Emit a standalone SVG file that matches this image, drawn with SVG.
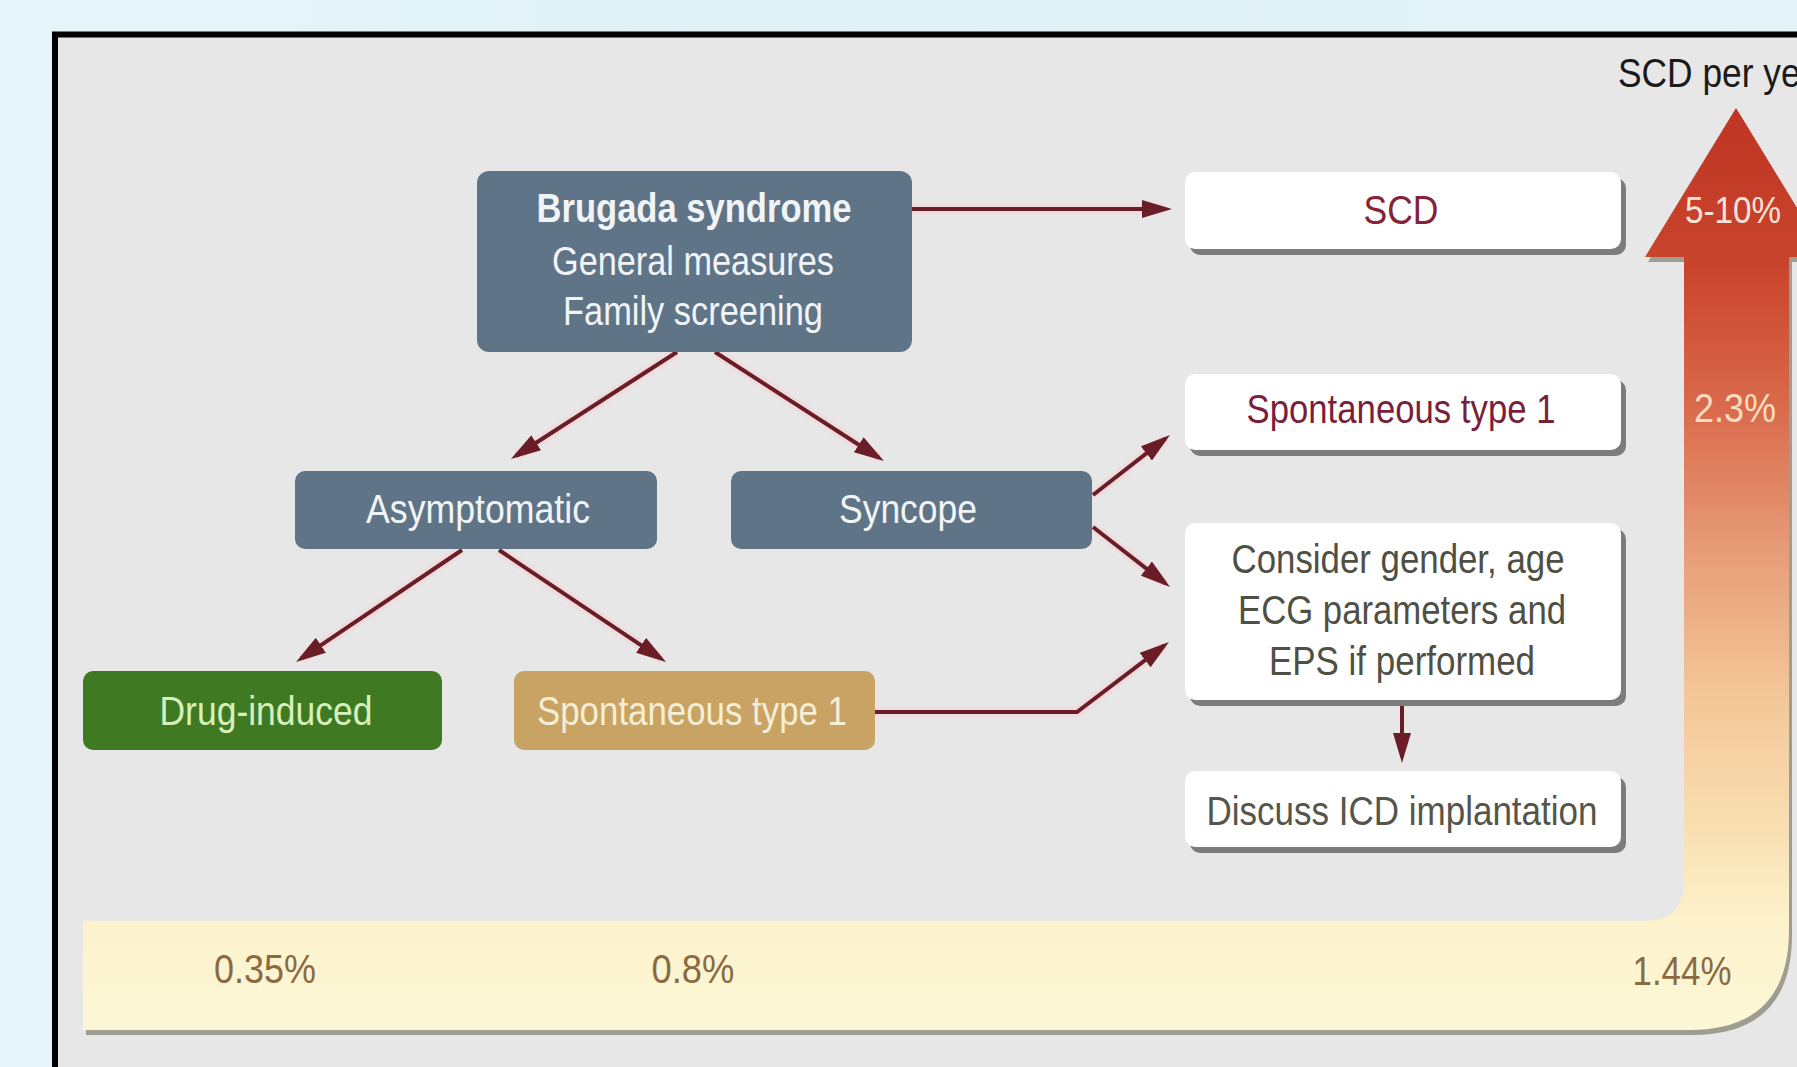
<svg xmlns="http://www.w3.org/2000/svg" width="1797" height="1067" viewBox="0 0 1797 1067">
<defs>
<linearGradient id="bgGrad" x1="0" y1="0" x2="1" y2="0">
<stop offset="0" stop-color="#e6f5fa"/>
<stop offset="0.5" stop-color="#dff1f6"/>
<stop offset="1" stop-color="#e4f3f7"/>
</linearGradient>
<linearGradient id="arrowGrad" gradientUnits="userSpaceOnUse" x1="0" y1="108" x2="0" y2="1030">
<stop offset="0" stop-color="#bf3624"/>
<stop offset="0.17" stop-color="#c9442c"/>
<stop offset="0.32" stop-color="#d9694b"/>
<stop offset="0.48" stop-color="#e79c78"/>
<stop offset="0.63" stop-color="#f3c596"/>
<stop offset="0.80" stop-color="#f9e2b6"/>
<stop offset="0.88" stop-color="#fcf2cc"/>
<stop offset="1" stop-color="#fdf7d6"/>
</linearGradient>
<marker id="ah" markerUnits="userSpaceOnUse" viewBox="0 0 30 18" markerWidth="30" markerHeight="18" refX="24" refY="9" orient="auto">
<path d="M0,0 L30,9 L0,18 z" fill="#6b1d27"/>
</marker>
<style>
.t{font-family:"Liberation Sans",Arial,sans-serif;font-size:41px;text-anchor:middle}
.slate{fill:#607487}
.wt{fill:#f1f4f6}
.shadow{fill:#7c7c7c}
.white{fill:#ffffff}
.conn{fill:none;stroke:#6b1d27;stroke-width:4}
.halo{fill:none;stroke:#f5d3d7;stroke-width:11;stroke-opacity:0.55}
.pct{fill:#8a6a42}
</style>
</defs>

<rect x="0" y="0" width="1797" height="1067" fill="url(#bgGrad)"/>
<rect x="55" y="34.5" width="1800" height="1100" fill="#e7e7e7" stroke="#000" stroke-width="6"/>

<g id="risk-arrow">
<path d="M86,926 H1647 Q1687,926 1687,886 V262 H1648 L1739,113 L1830,262 H1792 V935 Q1792,1035 1692,1035 H86 Z" fill="#9d9d92"/>
<path d="M83,921 H1644 Q1684,921 1684,881 V257 H1645 L1736,108 L1827,257 H1789 V930 Q1789,1030 1689,1030 H83 Z" fill="url(#arrowGrad)"/>
<text class="t" x="1733" y="223" font-size="36" style="font-size:36px" textLength="96" lengthAdjust="spacingAndGlyphs" fill="#f8e2da">5-10%</text>
<text class="t" x="1735" y="422" textLength="82" lengthAdjust="spacingAndGlyphs" fill="#f8dcc0">2.3%</text>
<text class="t pct" x="265" y="983" textLength="102" lengthAdjust="spacingAndGlyphs">0.35%</text>
<text class="t pct" x="693" y="983" textLength="83" lengthAdjust="spacingAndGlyphs">0.8%</text>
<text class="t pct" x="1682" y="985" textLength="99" lengthAdjust="spacingAndGlyphs">1.44%</text>
<text class="t" x="1618" y="87" textLength="214" lengthAdjust="spacingAndGlyphs" style="text-anchor:start" fill="#1a1a1a">SCD per year</text>
</g>

<g id="connectors">
<g class="halo">
<path d="M911,209 H1166"/>
<path d="M677,352 L516,456"/>
<path d="M715,352 L879,458"/>
<path d="M462,550 L301,659"/>
<path d="M499,550 L661,659"/>
<path d="M1093,495 L1165,439"/>
<path d="M1093,527 L1165,583"/>
<path d="M875,712 H1077 L1164,646"/>
</g>
<path class="conn" d="M911,209 H1166" marker-end="url(#ah)"/>
<path class="conn" d="M677,352 L516,455.7" marker-end="url(#ah)"/>
<path class="conn" d="M715,352 L878.9,457.7" marker-end="url(#ah)"/>
<path class="conn" d="M462,550 L301,658.6" marker-end="url(#ah)"/>
<path class="conn" d="M499,550 L661,658.7" marker-end="url(#ah)"/>
<path class="conn" d="M1093,495 L1165.3,438.7" marker-end="url(#ah)"/>
<path class="conn" d="M1093,527 L1165.3,583.3" marker-end="url(#ah)"/>
<path class="conn" d="M875,712 H1077 L1164.2,645.6" marker-end="url(#ah)"/>
<path class="conn" d="M1402,702 V757" marker-end="url(#ah)"/>
</g>

<g id="brugada">
<rect class="slate" x="477" y="171" width="435" height="181" rx="12"/>
<text class="t wt" x="694" y="222" font-weight="bold" textLength="315" lengthAdjust="spacingAndGlyphs">Brugada syndrome</text>
<text class="t wt" x="693" y="275" textLength="282" lengthAdjust="spacingAndGlyphs">General measures</text>
<text class="t wt" x="693" y="325" textLength="260" lengthAdjust="spacingAndGlyphs">Family screening</text>
</g>

<g id="asymptomatic">
<rect class="slate" x="295" y="471" width="362" height="78" rx="10"/>
<text class="t wt" x="478" y="523" textLength="224" lengthAdjust="spacingAndGlyphs">Asymptomatic</text>
</g>

<g id="syncope">
<rect class="slate" x="731" y="471" width="361" height="78" rx="10"/>
<text class="t wt" x="908" y="523" textLength="138" lengthAdjust="spacingAndGlyphs">Syncope</text>
</g>

<g id="drug-induced">
<rect x="83" y="671" width="359" height="79" rx="10" fill="#3f7a23"/>
<text class="t" x="266" y="725" textLength="213" lengthAdjust="spacingAndGlyphs" fill="#d6f0bc">Drug-induced</text>
</g>

<g id="spontaneous-asym">
<rect x="514" y="671" width="361" height="79" rx="10" fill="#c8a363"/>
<text class="t" x="692" y="725" textLength="310" lengthAdjust="spacingAndGlyphs" fill="#f5eed6">Spontaneous type 1</text>
</g>

<g id="scd">
<rect class="shadow" x="1190" y="178" width="436" height="77" rx="10"/>
<rect class="white" x="1185" y="172" width="436" height="77" rx="10"/>
<text class="t" x="1401" y="224" textLength="75" lengthAdjust="spacingAndGlyphs" fill="#862235">SCD</text>
</g>

<g id="spontaneous-syncope">
<rect class="shadow" x="1190" y="380" width="436" height="76" rx="10"/>
<rect class="white" x="1185" y="374" width="436" height="76" rx="10"/>
<text class="t" x="1401" y="423" textLength="309" lengthAdjust="spacingAndGlyphs" fill="#7a1f3a">Spontaneous type 1</text>
</g>

<g id="consider">
<rect class="shadow" x="1190" y="529" width="436" height="177" rx="10"/>
<rect class="white" x="1185" y="523" width="436" height="177" rx="10"/>
<text class="t" x="1398" y="573" textLength="333" lengthAdjust="spacingAndGlyphs" fill="#4f4f44">Consider gender, age</text>
<text class="t" x="1402" y="624" textLength="328" lengthAdjust="spacingAndGlyphs" fill="#4f4f44">ECG parameters and</text>
<text class="t" x="1402" y="675" textLength="266" lengthAdjust="spacingAndGlyphs" fill="#4f4f44">EPS if performed</text>
</g>

<g id="discuss-icd">
<rect class="shadow" x="1190" y="777" width="436" height="76" rx="10"/>
<rect class="white" x="1185" y="771" width="436" height="76" rx="10"/>
<text class="t" x="1402" y="825" textLength="391" lengthAdjust="spacingAndGlyphs" fill="#55554a">Discuss ICD implantation</text>
</g>
</svg>
